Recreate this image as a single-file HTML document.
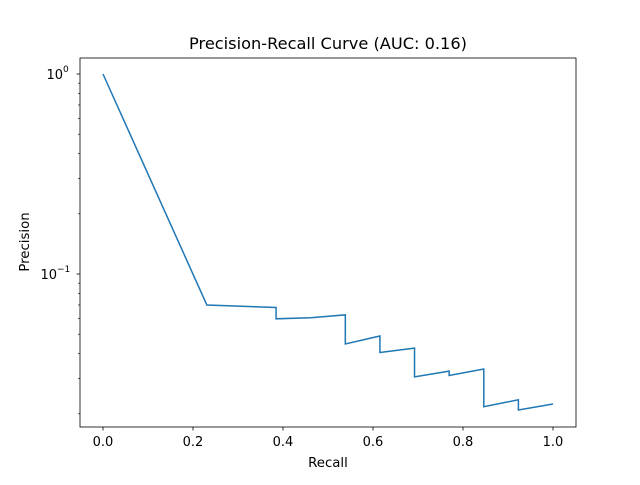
<!DOCTYPE html>
<html><head><meta charset="utf-8"><style>
body{margin:0;background:#fff;}
svg text{font-family:"DejaVu Sans","Liberation Sans",sans-serif;fill:#000;}
</style></head><body>
<svg id="chart" width="640" height="480" viewBox="0 0 640 480">
<rect width="640" height="480" fill="#fff"/>
<text x="328" y="49" font-size="16.2" text-anchor="middle">Precision-Recall Curve (AUC: 0.16)</text>
<g id="axes"></g>
<rect x="80" y="58" width="496" height="369" fill="none" stroke="#000" stroke-width="0.8"/>
<text x="328" y="467" font-size="13.3" text-anchor="middle">Recall</text>
<text x="29" y="242" font-size="13.3" text-anchor="middle" transform="rotate(-90 29 242)">Precision</text>
</svg>
<script>
const recall=[0,0.2308,0.3077,0.3846,0.3846,0.4615,0.5385,0.5385,0.6154,0.6154,0.6923,0.6923,0.7692,0.7692,0.8462,0.8462,0.9231,0.9231,1.0];
const precision=[1.0,0.070,0.069,0.068,0.0597,0.0604,0.0625,0.0447,0.049,0.0405,0.0426,0.0306,0.0327,0.0311,0.0335,0.0217,0.0235,0.0209,0.0224];
const xTicks=[0,0.2,0.4,0.6,0.8,1.0];
const xTickLabels=["0.0","0.2","0.4","0.6","0.8","1.0"];
const yMajor=[1,0.1];
const yMajorLabels=["10","10"];
const yMajorExp=["0","−1"];
const yMinor=[0.02,0.03,0.04,0.05,0.06,0.07,0.08,0.09,0.2,0.3,0.4,0.5,0.6,0.7,0.8,0.9];
const NS="http://www.w3.org/2000/svg";
const X=v=>103+v*450;
const Y=v=>74-Math.log10(v)*200;
const g=document.getElementById('axes');
function mk(t,a){const e=document.createElementNS(NS,t);for(const k in a)e.setAttribute(k,a[k]);g.appendChild(e);return e;}
xTicks.forEach((v,i)=>{
 const l=mk('line',{x1:X(v),x2:X(v),y1:427,y2:430.5,stroke:'#000','stroke-width':0.8});
 
 
 const t=mk('text',{x:X(v),y:446,'font-size':13,'text-anchor':'middle'});
 t.textContent=xTickLabels[i];
 
 
});
yMajor.forEach((v,i)=>{
 const l=mk('line',{x1:76.5,x2:80,y1:Y(v),y2:Y(v),stroke:'#000','stroke-width':0.8});
 
 
 const t=mk('text',{x:i==0?63:57,y:Y(v)+5,'font-size':13,'text-anchor':'end'});
 t.textContent=yMajorLabels[i];
 
 
 const s=mk('text',{x:i==0?63:57,y:Y(v)-2,'font-size':9});
 s.textContent=yMajorExp[i];
 
 
});
yMinor.forEach(v=>{
 const l=mk('line',{x1:78,x2:80,y1:Y(v),y2:Y(v),stroke:'#000','stroke-width':0.6});
 
 
});
const p=mk('polyline',{points:recall.map((r,i)=>X(r)+','+Y(precision[i])).join(' '),fill:'none',stroke:'#1f77b4','stroke-width':1.5});


</script>
</body></html>
